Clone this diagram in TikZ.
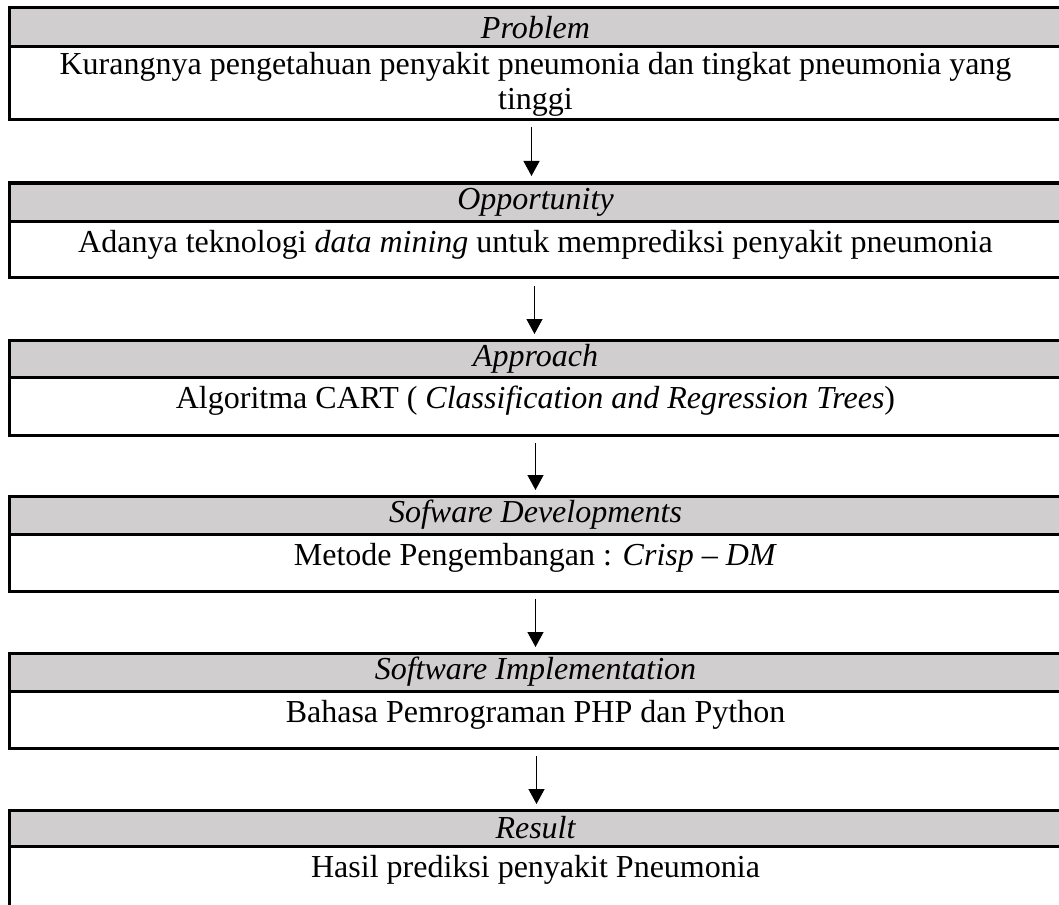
\documentclass[tikz,border=0pt]{standalone}
\usepackage{fontspec}
\setmainfont{Liberation Serif}
\usetikzlibrary{arrows.meta,calc}
\definecolor{hdrgray}{RGB}{208,206,206}
\begin{document}
\begin{tikzpicture}[x=1pt,y=-1pt,
  hdr/.style={draw, line width=3pt, fill=hdrgray, minimum width=1053pt, anchor=north west, inner sep=0pt, outer sep=0pt, font=\fontsize{32}{35}\selectfont\itshape},
  bod/.style={draw, line width=3pt, minimum width=1053pt, anchor=north west, inner sep=0pt, outer sep=0pt},
  txt/.style={font=\fontsize{32}{35}\selectfont, anchor=base, align=center, inner sep=0pt},
  arr/.style={line width=1.3pt, -{Triangle[width=16pt,length=15pt]}}]
\useasboundingbox (0,0) rectangle (1059,904);
% box 1
\node[hdr, minimum height=39pt] (h1) at (9,8) {Problem};
\node[bod, minimum height=73pt] (b1) at (h1.south west) {};
\node[txt] (t1) at (535.5,110) {Kurangnya pengetahuan penyakit pneumonia dan tingkat pneumonia yang\\tinggi};
% box 2
\node[hdr, minimum height=38pt] (h2) at (9,183) {Opportunity};
\node[bod, minimum height=56pt] (b2) at (h2.south west) {};
\node[txt] (t2) at (535.5,252) {Adanya teknologi \textit{data mining} untuk memprediksi penyakit pneumonia};
% box 3
\node[hdr, minimum height=37pt] (h3) at (9,340) {Approach};
\node[bod, minimum height=58pt] (b3) at (h3.south west) {};
\node[txt] (t3) at (535.5,408) {Algoritma CART ( \textit{Classification and Regression Trees})};
% box 4
\node[hdr, minimum height=38pt] (h4) at (9,496) {Sofware Developments};
\node[bod, minimum height=57pt] (b4) at (h4.south west) {};
\node[txt] (t4) at (535.5,565) {Metode Pengembangan : \textit{Crisp -- DM}};
% box 5
\node[hdr, minimum height=38pt] (h5) at (9,653) {Software Implementation};
\node[bod, minimum height=57pt] (b5) at (h5.south west) {};
\node[txt] (t5) at (535.5,722) {Bahasa Pemrograman PHP dan Python};
% box 6
\node[hdr, minimum height=36pt] (h6) at (9,810) {Result};
\node[bod, minimum height=62pt] (b6) at (h6.south west) {};
\node[txt] (t6) at (535.5,877) {Hasil prediksi penyakit Pneumonia};
% arrows
\draw[arr] ($(b1.south)+(-4,7)$) -- ($(h2.north)+(-4,-7)$);
\draw[arr] ($(b2.south)+(-1,9)$) -- ($(h3.north)+(-1,-6)$);
\draw[arr] ($(b3.south)+(0,8)$) -- ($(h4.north)+(0,-6)$);
\draw[arr] ($(b4.south)+(0,8)$) -- ($(h5.north)+(0,-6)$);
\draw[arr] ($(b5.south)+(1,8)$) -- ($(h6.north)+(1,-6)$);
\end{tikzpicture}
\end{document}
